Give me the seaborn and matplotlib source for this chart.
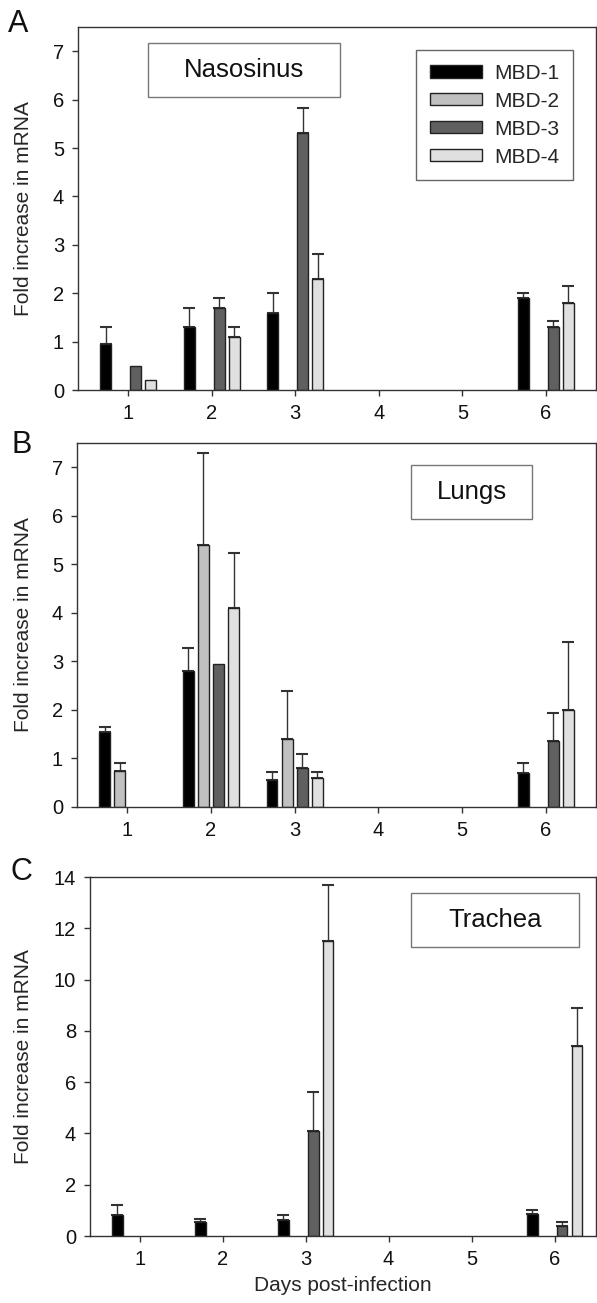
import numpy as np
import pandas as pd
import matplotlib
matplotlib.use("Agg")
import matplotlib.pyplot as plt
from matplotlib.patches import Patch, Rectangle
import seaborn as sns

nan = np.nan

days = [1, 2, 3, 4, 5, 6]
genes = ["MBD-1", "MBD-2", "MBD-3", "MBD-4"]
gene_colors = ["#000000", "#c0c0c0", "#606060", "#e0e0e0"]

# Panel A: Nasosinus
nas_mbd1 = [0.95, 1.3, 1.6, nan, nan, 1.9]
nas_mbd1_err = [0.35, 0.4, 0.4, nan, nan, 0.1]
nas_mbd2 = [nan, nan, nan, nan, nan, nan]
nas_mbd2_err = [nan, nan, nan, nan, nan, nan]
nas_mbd3 = [0.5, 1.7, 5.3, nan, nan, 1.3]
nas_mbd3_err = [0.0, 0.2, 0.53, nan, nan, 0.13]
nas_mbd4 = [0.2, 1.1, 2.3, nan, nan, 1.8]
nas_mbd4_err = [0.0, 0.2, 0.5, nan, nan, 0.35]

# Panel B: Lungs
lung_mbd1 = [1.55, 2.8, 0.55, nan, nan, 0.7]
lung_mbd1_err = [0.1, 0.48, 0.18, nan, nan, 0.2]
lung_mbd2 = [0.75, 5.4, 1.4, nan, nan, nan]
lung_mbd2_err = [0.15, 1.9, 1.0, nan, nan, nan]
lung_mbd3 = [nan, 2.95, 0.8, nan, nan, 1.35]
lung_mbd3_err = [nan, 0.0, 0.3, nan, nan, 0.58]
lung_mbd4 = [nan, 4.1, 0.6, nan, nan, 2.0]
lung_mbd4_err = [nan, 1.13, 0.13, nan, nan, 1.4]

# Panel C: Trachea
tra_mbd1 = [0.82, 0.53, 0.62, nan, nan, 0.85]
tra_mbd1_err = [0.38, 0.12, 0.2, nan, nan, 0.18]
tra_mbd2 = [nan, nan, nan, nan, nan, nan]
tra_mbd2_err = [nan, nan, nan, nan, nan, nan]
tra_mbd3 = [nan, nan, 4.1, nan, nan, 0.4]
tra_mbd3_err = [nan, nan, 1.5, nan, nan, 0.14]
tra_mbd4 = [nan, nan, 11.5, nan, nan, 7.4]
tra_mbd4_err = [nan, nan, 2.2, nan, nan, 1.5]

panel_titles = ["Nasosinus", "Lungs", "Trachea"]
panel_letters = ["A", "B", "C"]
y_label = "Fold increase in mRNA"
x_label = "Days post-infection"


def long_frame(means, errs):
    rows = []
    for g, m, e in zip(genes, means, errs):
        for d, v, s in zip(days, m, e):
            if not np.isnan(v):
                rows.append({"day": d, "gene": g, "value": v, "err": s})
    return pd.DataFrame(rows)


panels = [
    long_frame([nas_mbd1, nas_mbd2, nas_mbd3, nas_mbd4],
               [nas_mbd1_err, nas_mbd2_err, nas_mbd3_err, nas_mbd4_err]),
    long_frame([lung_mbd1, lung_mbd2, lung_mbd3, lung_mbd4],
               [lung_mbd1_err, lung_mbd2_err, lung_mbd3_err, lung_mbd4_err]),
    long_frame([tra_mbd1, tra_mbd2, tra_mbd3, tra_mbd4],
               [tra_mbd1_err, tra_mbd2_err, tra_mbd3_err, tra_mbd4_err]),
]

sns.set_style("ticks")
plt.rcParams["font.family"] = ["Liberation Sans", "DejaVu Sans"]
plt.rcParams["axes.edgecolor"] = "#333333"
plt.rcParams["axes.linewidth"] = 1.0
plt.rcParams["xtick.color"] = "#333333"
plt.rcParams["ytick.color"] = "#333333"
plt.rcParams["xtick.labelcolor"] = "#111111"
plt.rcParams["ytick.labelcolor"] = "#111111"

W, H = 597, 1303
fig = plt.figure(figsize=(W / 100, H / 100), dpi=100)

# axes boxes in pixels: left, top, right, bottom
boxes = [(78, 27, 596, 390), (77, 443, 596, 807), (90, 877, 596, 1236)]
ylims = [(0, 7.5), (0, 7.5), (0, 14)]
yticks = [range(0, 8), range(0, 8), range(0, 15, 2)]
xlims = [(-0.6, 5.6), (-0.6, 5.6), (-0.6, 5.5)]
title_boxes = [(0.1351, 0.8072, 0.5058, 0.9559),
               (0.6435, 0.7912, 0.8767, 0.9396),
               (0.6344, 0.8050, 0.9664, 0.9554)]
ylabel_x = [-0.0869, -0.0848, -0.1126]
letter_pos = [(8, 32), (12, 453), (10, 880)]

for i, df in enumerate(panels):
    l, t, r, b = boxes[i]
    ax = fig.add_axes([l / W, 1 - b / H, (r - l) / W, (b - t) / H])
    sns.barplot(data=df, x="day", y="value", hue="gene", order=days,
                hue_order=genes, palette=gene_colors, errorbar=None,
                width=0.72, gap=0.28, edgecolor="#222222", linewidth=1.0,
                legend=False, ax=ax, zorder=2)
    # upper-only error bars, positioned from the drawn bars
    for p in ax.patches:
        h = p.get_height()
        if h is None or np.isnan(h) or h == 0:
            continue
        cx = p.get_x() + p.get_width() / 2
        idx = int(round(cx))
        gi = int(round((cx - idx + 0.27) / 0.18))
        sel = df[(df["day"] == days[idx]) & (df["gene"] == genes[gi])]
        if len(sel) == 0:
            continue
        e = float(sel["err"].iloc[0])
        if np.isnan(e) or e <= 0:
            continue
        ax.errorbar([cx], [h], yerr=[[0], [e]], fmt="none",
                    ecolor="#333333", elinewidth=1.0, capsize=4,
                    capthick=1.5, zorder=1)
    ax.set_xlim(*xlims[i])
    ax.set_ylim(*ylims[i])
    ax.set_yticks(list(yticks[i]))
    ax.tick_params(axis="both", direction="out", length=4, width=1,
                   labelsize=14.5, pad=6)
    ax.set_ylabel(y_label, fontsize=15)
    ax.yaxis.set_label_coords(ylabel_x[i], 0.5)
    if i == 2:
        ax.set_xlabel(x_label, fontsize=15, labelpad=5)
    else:
        ax.set_xlabel("")
    for s in ax.spines.values():
        s.set_visible(True)
        s.set_color("#333333")
    x0, y0, x1, y1 = title_boxes[i]
    ax.add_patch(Rectangle((x0, y0), x1 - x0, y1 - y0, transform=ax.transAxes,
                           facecolor="white", edgecolor="#777777",
                           linewidth=1.0, zorder=3))
    ax.text((x0 + x1) / 2, (y0 + y1) / 2, panel_titles[i],
            transform=ax.transAxes, ha="center", va="center",
            fontsize=18.5, color="#111111", zorder=4)
    if i == 0:
        handles = [Patch(facecolor=c, edgecolor="#222222", linewidth=1.0)
                   for c in gene_colors]
        leg = ax.legend(handles, genes, loc="upper right",
                        bbox_to_anchor=(0.9556, 0.9366), frameon=True,
                        fancybox=False, edgecolor="#666666", framealpha=1,
                        fontsize=15, handlelength=2.5, handleheight=0.53,
                        handletextpad=0.58, labelspacing=0.43,
                        borderpad=0.66, borderaxespad=0)
        leg.get_frame().set_linewidth(1.0)
    lx, ly = letter_pos[i]
    fig.text(lx / W, 1 - ly / H, panel_letters[i], fontsize=22,
             ha="left", va="baseline", color="#111111")

fig.savefig("out.png", dpi=100)
